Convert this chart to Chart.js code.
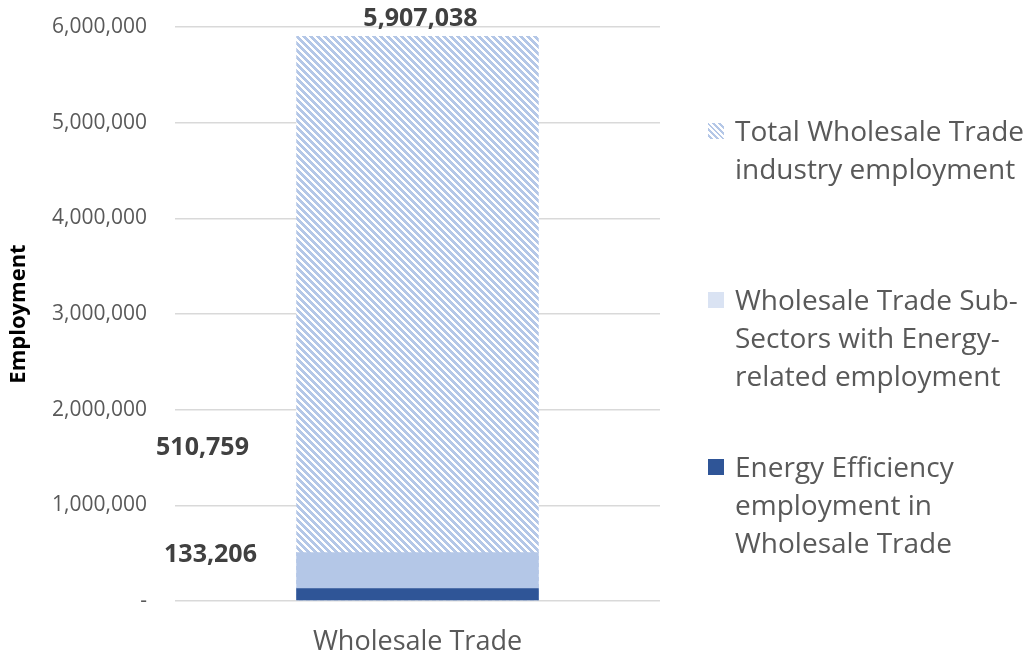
<!DOCTYPE html>
<html>
<head>
<meta charset="utf-8">
<script src="https://cdn.jsdelivr.net/npm/chart.js@4.4.1/dist/chart.umd.min.js"></script>
<style>
  html, body { margin: 0; padding: 0; background: #fff; }
  #wrap { position: relative; width: 1031px; height: 658px; }
  #legend { position: absolute; left: 708px; top: 0; font-family: "Open Sans", sans-serif; font-size: 28px; color: #595959; line-height: 38px; }
  .item { position: absolute; left: 0; width: 323px; }
  .item span.sw { position: absolute; left: 0; top: 12px; width: 16px; height: 16px; }
  .item div.txt { margin-left: 27px; white-space: nowrap; }
</style>
</head>
<body>
<div id="wrap">
  <canvas id="c" width="1031" height="658"></canvas>
  <div id="legend"></div>
</div>
<script>
// employment in the wholesale trade industry
const categories = ["Wholesale Trade"];
const seriesNames = [
  ["Total Wholesale Trade", "industry employment"],
  ["Wholesale Trade Sub-", "Sectors with Energy-", "related employment"],
  ["Energy Efficiency", "employment in", "Wholesale Trade"]
];
const totalEmployment = [5907038];
const subSectorEmployment = [510759];
const efficiencyEmployment = [133206];
const yTicks = [0, 1000000, 2000000, 3000000, 4000000, 5000000, 6000000];

const LIGHT = "#b4c7e7";
const DARK = "#2f5597";
const TEXT = "#595959";

// wide downward-diagonal hatch
function hatch() {
  const s = 7;
  const cv = document.createElement("canvas");
  cv.width = s; cv.height = s;
  const g = cv.getContext("2d");
  g.fillStyle = "#fff";
  g.fillRect(0, 0, s, s);
  g.fillStyle = LIGHT;
  for (let y = 0; y < s; y++)
    for (let x = 0; x < s; x++)
      if (((x - y) % s + s) % s < 4) g.fillRect(x, y, 1, 1);
  return g.createPattern(cv, "repeat");
}

const ctx = document.getElementById("c").getContext("2d");
const pattern = hatch();

// label offset from top-centre of each bar
const labelOffsets = [[3, -17], [-215, -104], [-207, -33]];

const barLabels = {
  id: "barLabels",
  afterDatasetsDraw(chart) {
    const c = chart.ctx;
    c.save();
    c.font = "bold 25px 'Open Sans', sans-serif";
    c.fillStyle = "#404040";
    c.textAlign = "center";
    c.textBaseline = "middle";
    chart.data.datasets.forEach((ds, i) => {
      const el = chart.getDatasetMeta(i).data[0];
      const [dx, dy] = labelOffsets[i];
      c.fillText(ds.data[0].toLocaleString("en-US"), el.x + dx, el.y + dy);
    });
    c.restore();
  }
};

new Chart(ctx, {
  type: "bar",
  data: {
    labels: categories,
    datasets: [
      { label: seriesNames[0].join(" "), data: totalEmployment, backgroundColor: pattern, order: 3 },
      { label: seriesNames[1].join(" "), data: subSectorEmployment, backgroundColor: LIGHT, order: 2 },
      { label: seriesNames[2].join(" "), data: efficiencyEmployment, backgroundColor: DARK, order: 1 }
    ]
  },
  options: {
    responsive: false,
    animation: false,
    grouped: false,
    categoryPercentage: 1,
    barPercentage: 0.5,
    layout: { padding: { top: 27, right: 371, left: 6, bottom: 0 } },
    plugins: { legend: { display: false }, tooltip: { enabled: false } },
    scales: {
      x: {
        grid: { display: false },
        border: { display: false },
        ticks: { color: TEXT, font: { family: "'Open Sans', sans-serif", size: 27 }, padding: 17 },
        afterFit(s) { s.height = 57; }
      },
      y: {
        min: 0, max: 6000000,
        afterBuildTicks(s) { s.ticks = yTicks.map(v => ({ value: v })); },
        grid: { color: "#d9d9d9", lineWidth: 1.5, drawTicks: false },
        border: { display: false },
        ticks: {
          color: TEXT,
          padding: 28,
          font: { family: "'Open Sans', sans-serif", size: 21 },
          callback: v => v === 0 ? "-" : v.toLocaleString("en-US")
        },
        title: {
          display: true, text: "Employment", color: "#000",
          font: { family: "'Open Sans', sans-serif", size: 22, weight: "bold" },
          padding: { top: 0, bottom: 0 }
        },
        afterFit(s) {
          s.width = 169;
          s.paddingTop = 0;
          s.paddingBottom = 0;
        }
      }
    }
  },
  plugins: [barLabels]
});

// legend to the right of the plot
const legend = document.getElementById("legend");
const tops = [111, 280, 447];
const swatches = [null, "#dae3f3", DARK];
seriesNames.forEach((lines, i) => {
  const item = document.createElement("div");
  item.className = "item";
  item.style.top = tops[i] + "px";
  const sw = document.createElement("span");
  sw.className = "sw";
  sw.style.background = swatches[i] ||
    "repeating-linear-gradient(45deg, #fff 0 2px, " + LIGHT + " 2px 4px)";
  item.appendChild(sw);
  const txt = document.createElement("div");
  txt.className = "txt";
  txt.innerHTML = lines.join("<br>");
  item.appendChild(txt);
  legend.appendChild(item);
});
</script>
</body>
</html>
